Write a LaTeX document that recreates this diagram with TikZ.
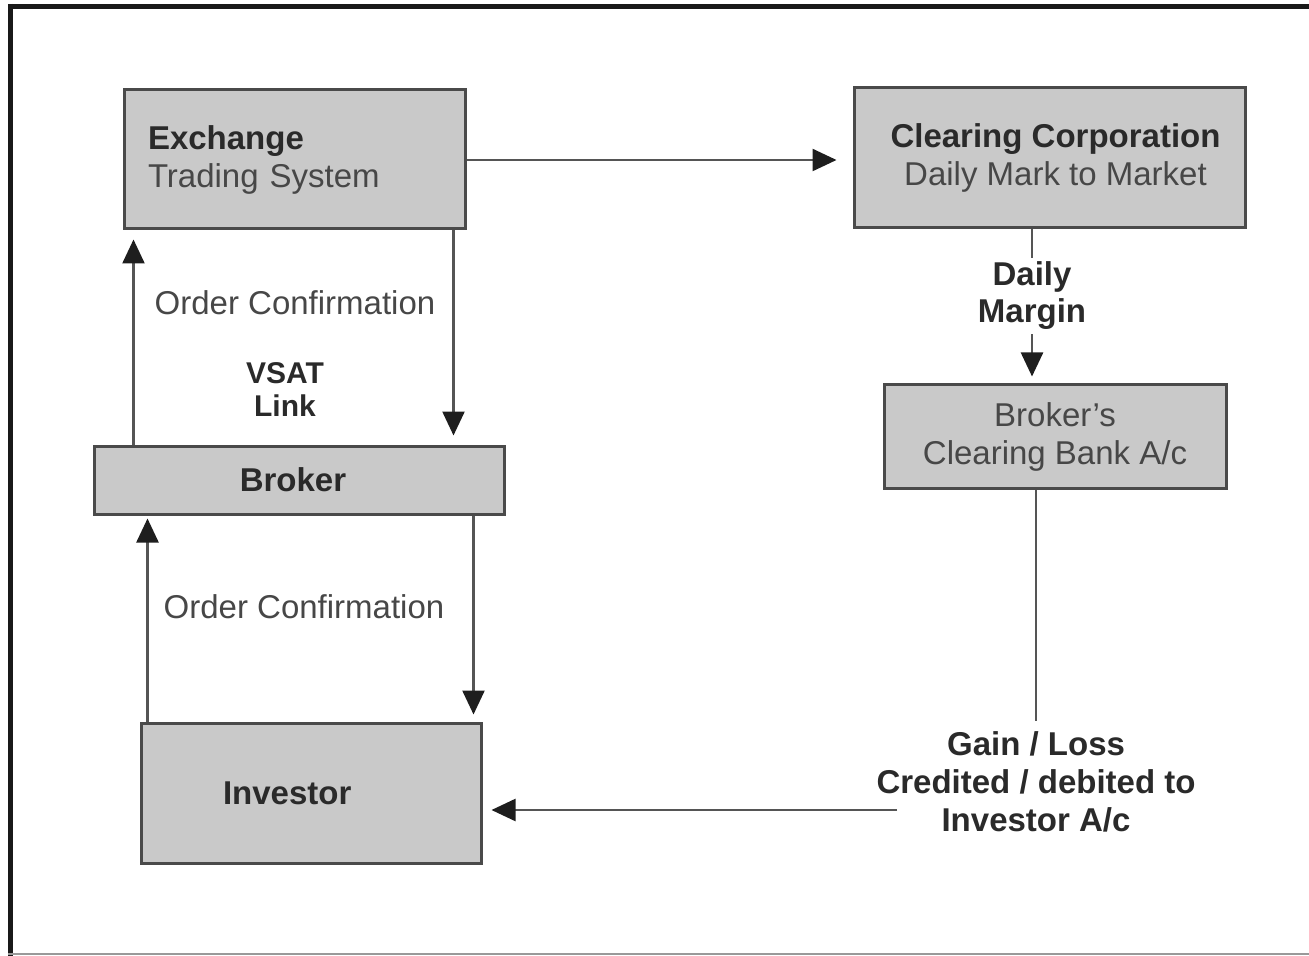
\documentclass[tikz,border=0pt]{standalone}
\usepackage{fontspec}
\setmainfont{Liberation Sans}
\usetikzlibrary{arrows.meta,calc}
\definecolor{boxfill}{HTML}{C9C9C9}
\definecolor{boxedge}{HTML}{4A4A4A}
\definecolor{linegray}{HTML}{555555}
\definecolor{tipgray}{HTML}{1E1E1E}
\definecolor{darktext}{HTML}{2A2A2A}
\definecolor{softtext}{HTML}{474747}
\tikzset{
  box/.style={draw=boxedge, fill=boxfill, line width=1.5pt, inner sep=0pt,
    text=darktext, font=\fontsize{16.5}{19}\selectfont, align=center},
  lbl/.style={inner sep=2pt, text=darktext, align=center,
    font=\fontsize{16.5}{19}\selectfont},
  conn/.style={draw=linegray, line width=1.2pt},
  arr/.style={conn, -{Triangle[length=12pt,width=11pt,color=tipgray]}},
}
\begin{document}
\begin{tikzpicture}[x=0.5pt,y=-0.5pt]
\useasboundingbox (0,0) rectangle (1309,956);
% outer frame
\draw[line width=2.5pt, black!90] (8,6.5) -- (1309,6.5);
\draw[line width=2.5pt, black!90] (10.5,4) -- (10.5,956);
\draw[line width=1pt, black!40] (8,954) -- (1309,954);

% boxes
\node[box, align=left, text width=146.5pt, inner xsep=12pt, minimum height=69.5pt]
  (ex) at (294.5,159.5) {\textbf{Exchange}\\\textcolor{softtext}{Trading System}};
\node[box, minimum width=195.5pt, minimum height=70pt]
  (cc) at (1049.5,158) {\hspace*{6pt}\textbf{Clearing Corporation}\\\hspace*{6pt}\textcolor{softtext}{Daily Mark to Market}};
\node[box, minimum width=171pt, minimum height=51.5pt, text=softtext]
  (bank) at (1055,436.5) {Broker's\\Clearing Bank A/c};
\node[box, minimum width=205pt, minimum height=34pt]
  (broker) at (299,480) {\textbf{Broker}\hspace*{6pt}};
\node[box, align=left, text width=88pt, inner xsep=41pt, minimum height=70pt]
  (inv) at (311,793) {\textbf{Investor}};

% labels
\node[lbl, text=softtext] (oc1) at (295,303) {Order Confirmation};
\node[lbl, font=\bfseries\fontsize{15}{16.5}\selectfont] (vsat) at (285,390) {VSAT\\Link};
\node[lbl, text=softtext] (oc2) at (304,607) {Order Confirmation};
\node[lbl, font=\bfseries\fontsize{16.5}{18.5}\selectfont] (margin) at (1032,296) {Daily\\Margin};
\node[lbl, inner sep=5pt, font=\bfseries\fontsize{16.5}{19}\selectfont] (gain) at (1036,782)
  {Gain / Loss\\Credited / debited to\\Investor A/c};
\coordinate (gout) at (897,810);

% connectors
\draw[arr, shorten >=8pt] (ex.east |- 0,160) -- (cc.west |- 0,160);
\draw[arr, shorten >=4.5pt] ($(broker.north west)+(41,0)$) -- ($(ex.south west)+(11,0)$);
\draw[arr, shorten >=4.5pt] ($(ex.south east)+(-13,0)$) -- ($(broker.north east)+(-52,0)$);
\draw[arr, shorten >=1.5pt] ($(inv.north west)+(8,0)$) -- ($(broker.south west)+(55,0)$);
\draw[arr, shorten >=3.5pt] ($(broker.south east)+(-32,0)$) -- ($(inv.north east)+(-9,0)$);
\draw[conn] (cc.south -| margin) -- (margin.north);
\draw[arr, shorten >=3.5pt] (margin.south) -- (bank.north -| margin);
\draw[conn] (bank.south -| gain) -- (gain.north);
\draw[arr, shorten >=4.5pt] (gout) -- (gout -| inv.east);
\end{tikzpicture}
\end{document}
